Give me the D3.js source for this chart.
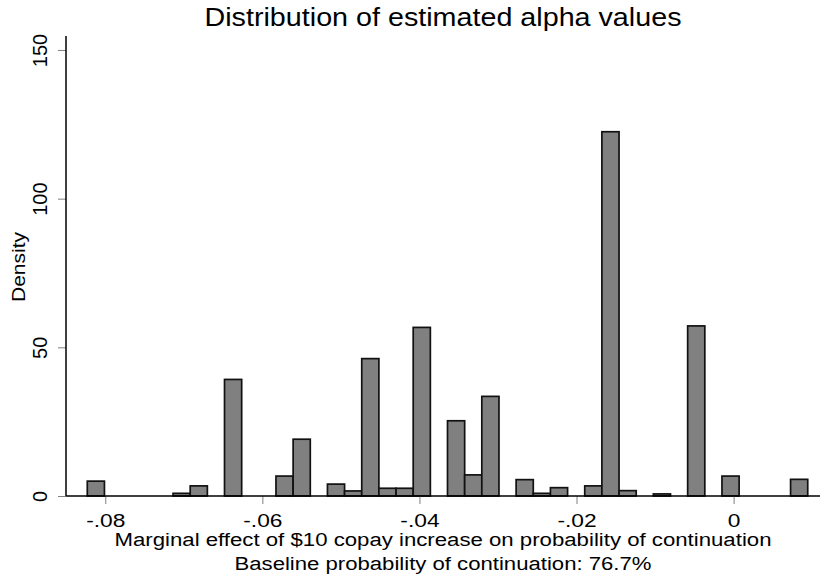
<!DOCTYPE html>
<html>
<head>
<meta charset="utf-8">
<script src="https://cdn.jsdelivr.net/npm/d3@7"></script>
<style>
  body { margin: 0; background: #fff; }
  svg { display: block; font-family: "Liberation Sans", Arial, sans-serif; }
</style>
</head>
<body>
<svg id="drawing_region"></svg>
<script>
// histogram bins (density per bin)
const binStart = -0.08229;
const binWidth = 0.002184;
const density = [
    5.0, 0, 0, 0, 0, 0.9, 3.4, 0, 39.2, 0,
    0, 6.7, 19.1, 0, 4.0, 1.7, 46.2, 2.6, 2.6, 56.7,
    0, 25.3, 7.1, 33.5, 0, 5.5, 0.9, 2.8, 0, 3.4,
    122.5, 1.8, 0, 0.7, 0, 57.2, 0, 6.7, 0, 0,
    0, 5.6
];
const xTickValues = [-0.08, -0.06, -0.04, -0.02, 0];
const xTickLabels = ['-.08', '-.06', '-.04', '-.02', '0'];
const yTickValues = [0, 50, 100, 150];
const titleText = 'Distribution of estimated alpha values';
const xTitleLines = ['Marginal effect of $10 copay increase on probability of continuation',
                     'Baseline probability of continuation: 76.7%'];
const yTitleText = 'Density';

const config = {
    width: 822,
    height: 577,
    plot: { left: 66, right: 820, top: 36, bottom: 496 }
};

const svg = d3.select('#drawing_region')
    .attr('width', config.width)
    .attr('height', config.height);

const xscale = d3.scaleLinear()
    .domain([-0.085, 0.011])
    .range([config.plot.left, config.plot.right]);
const yscale = d3.scaleLinear()
    .domain([0, 154.7])
    .range([config.plot.bottom, config.plot.top]);

const bins = density.map((d, i) => ({
    x0: binStart + i * binWidth,
    x1: binStart + (i + 1) * binWidth,
    y: d
})).filter(d => d.y > 0);

// bars
svg.append('g').selectAll('rect')
    .data(bins)
    .join('rect')
    .attr('x', d => xscale(d.x0))
    .attr('y', d => yscale(d.y))
    .attr('width', d => xscale(d.x1) - xscale(d.x0))
    .attr('height', d => yscale(0) - yscale(d.y))
    .attr('fill', '#808080')
    .attr('stroke', '#111')
    .attr('stroke-width', 1.7);

// x axis
const xaxis = d3.axisBottom(xscale)
    .tickValues(xTickValues)
    .tickFormat((d, i) => xTickLabels[i])
    .tickSize(8)
    .tickSizeOuter(0);
const xg = svg.append('g')
    .attr('transform', `translate(0, ${config.plot.bottom})`)
    .call(xaxis);
xg.select('.domain').remove();
xg.selectAll('.tick line').attr('stroke', '#808080');
xg.selectAll('.tick text')
    .attr('y', 31)
    .attr('dy', null)
    .attr('fill', '#000')
    .style('font-size', '17.5px')
    .style('font-family', '"Liberation Sans", Arial, sans-serif')
    .attr('transform', 'scale(1.3,1)');

// y axis
const yaxis = d3.axisLeft(yscale)
    .tickValues(yTickValues)
    .tickSize(8)
    .tickSizeOuter(0);
const yg = svg.append('g')
    .attr('transform', `translate(${config.plot.left}, 0)`)
    .call(yaxis);
yg.select('.domain').remove();
yg.selectAll('.tick line').attr('stroke', '#808080');
yg.selectAll('.tick text')
    .attr('x', null)
    .attr('dy', null)
    .attr('text-anchor', 'middle')
    .attr('fill', '#000')
    .style('font-size', '20px')
    .style('font-family', '"Liberation Sans", Arial, sans-serif')
    .attr('transform', 'translate(-19,0) rotate(-90)');

// axis lines
svg.append('line')
    .attr('x1', config.plot.left).attr('x2', config.plot.right)
    .attr('y1', config.plot.bottom).attr('y2', config.plot.bottom)
    .attr('stroke', '#000').attr('stroke-width', 1.5);
svg.append('line')
    .attr('x1', config.plot.left).attr('x2', config.plot.left)
    .attr('y1', config.plot.top).attr('y2', config.plot.bottom)
    .attr('stroke', '#000').attr('stroke-width', 1.5);

// titles
const cx = (config.plot.left + config.plot.right) / 2;
svg.append('text')
    .attr('x', cx).attr('y', 26)
    .attr('text-anchor', 'middle')
    .attr('textLength', 477)
    .attr('lengthAdjust', 'spacingAndGlyphs')
    .style('font-size', '25.5px')
    .text(titleText);

svg.append('text')
    .attr('x', cx).attr('y', 546)
    .attr('text-anchor', 'middle')
    .attr('textLength', 657)
    .attr('lengthAdjust', 'spacingAndGlyphs')
    .style('font-size', '18px')
    .text(xTitleLines[0]);
svg.append('text')
    .attr('x', cx).attr('y', 570)
    .attr('text-anchor', 'middle')
    .attr('textLength', 417)
    .attr('lengthAdjust', 'spacingAndGlyphs')
    .style('font-size', '18px')
    .text(xTitleLines[1]);

svg.append('text')
    .attr('transform', `translate(25, ${(config.plot.top + config.plot.bottom) / 2 + 1}) rotate(-90)`)
    .attr('text-anchor', 'middle')
    .attr('textLength', 70)
    .attr('lengthAdjust', 'spacingAndGlyphs')
    .style('font-size', '18px')
    .text(yTitleText);
</script>
</body>
</html>
